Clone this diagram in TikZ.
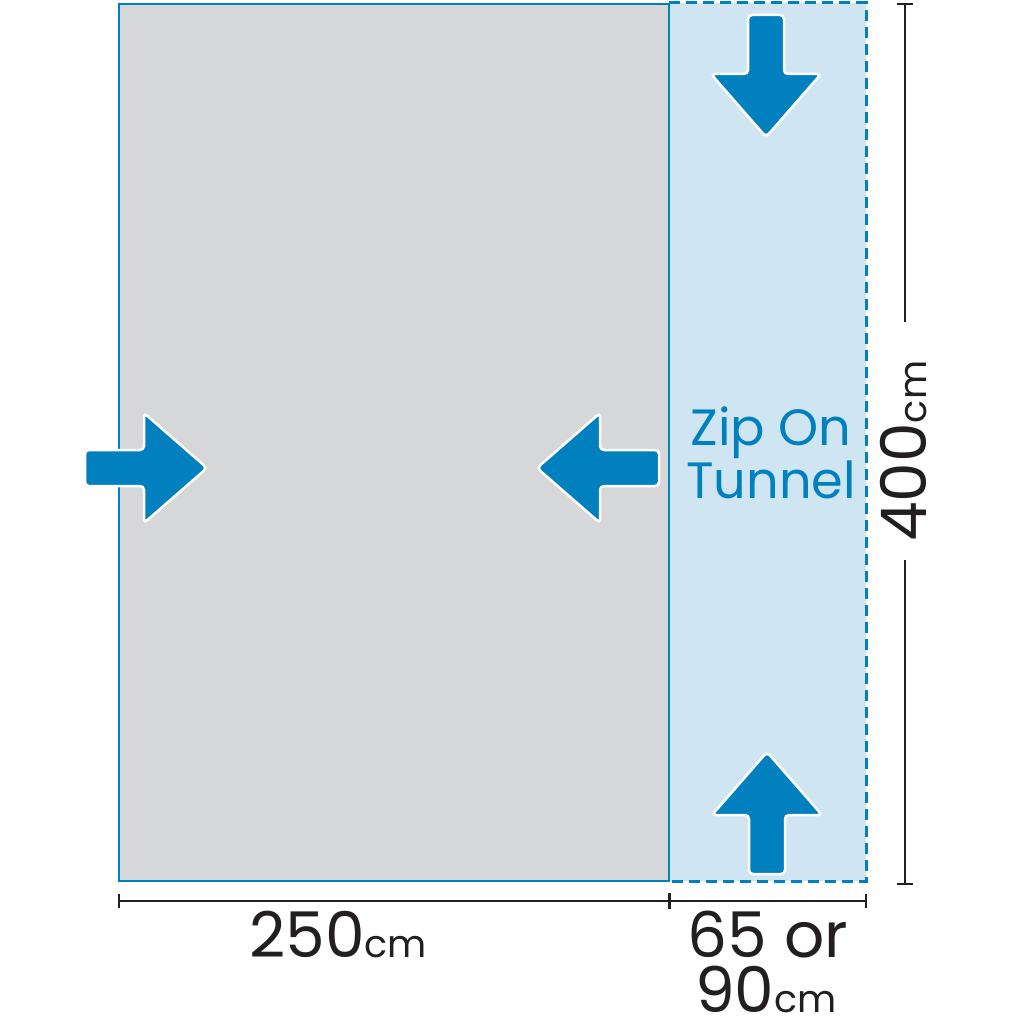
\documentclass[tikz,border=0pt]{standalone}
\usepackage{fontspec}
\setmainfont{Poppins}
\definecolor{bleu}{HTML}{0080BE}
\definecolor{bleuclair}{HTML}{CFE6F2}
\definecolor{gris}{HTML}{D5D7D8}
\definecolor{encre}{HTML}{231F20}
\newcommand{\unite}[1]{{\fontsize{38}{38}\selectfont #1}}
\begin{document}
\begin{tikzpicture}[x=1pt, y=-1pt]
				\tikzset{fleche/.style={fill=bleu, draw=white, line width=2.5pt, rounded corners=4pt},
					grossefleche/.pic={\path[fleche] (0,0) -- (-63,55) -- (-63,18) -- (-122,18) -- (-122,-18) -- (-63,-18) -- (-63,-55) -- cycle;},
					cote/.style={draw=encre, line width=2pt},
					chiffre/.style={inner sep=0, text=encre, font=\fontsize{63}{56}\selectfont},
					etiquette/.style={inner sep=0, text=bleu, font=\fontsize{51}{51}\selectfont, anchor=base}};
				\useasboundingbox (0,0) rectangle (1024,1024);

				% auvent et tunnel
				\fill[bleuclair] (669,3) rectangle (866,881);
				\draw[bleu, line width=3pt, dash pattern=on 11pt off 6pt] (669,3) -- (866,3) -- (866,881) -- (669,881);
				\draw[bleu, line width=2.5pt, fill=gris] (119,4) rectangle (669,881);

				% fleches
				\pic at (207,468) {grossefleche};
				\pic[rotate=180] at (537,468) {grossefleche};
				\pic[rotate=-90] at (766,137) {grossefleche};
				\pic[rotate=90] at (767,752) {grossefleche};

				\node[etiquette] (zipon) at (771,445) {Zip On};
				\node[etiquette] (tunnel) at (771,498) {Tunnel};

				% cotes
				\coordinate (b1) at (119,901);
				\coordinate (b2) at (669,901);
				\coordinate (b3) at (866,901);
				\draw[cote] (b1) -- (b3);
				\draw[cote] ([yshift=-7pt]b1) -- ([yshift=7pt]b1);
				\draw[cote, line width=3pt] ([yshift=-8pt]b2) -- ([yshift=8pt]b2);
				\draw[cote] ([yshift=-7pt]b3) -- ([yshift=7pt]b3);
				\node[chiffre, anchor=base] (largeur) at (338,957) {250\unite{cm}};
				\node[chiffre, anchor=base] (tunnela) at (768,957) {65 or};
				\node[chiffre, anchor=base] (tunnelb) at (766,1012) {90\unite{cm}};

				\coordinate (h1) at (905,4);
				\coordinate (h2) at (905,322);
				\coordinate (h3) at (905,560);
				\coordinate (h4) at (905,884);
				\draw[cote] (h1) -- (h2);
				\draw[cote] (h3) -- (h4);
				\draw[cote] ([xshift=-8pt]h1) -- ([xshift=8pt]h1);
				\draw[cote] ([xshift=-8pt]h4) -- ([xshift=8pt]h4);
				\node[chiffre, anchor=base west, rotate=90] (hauteur) at (926,542) {400\unite{cm}};
			\end{tikzpicture}
\end{document}
